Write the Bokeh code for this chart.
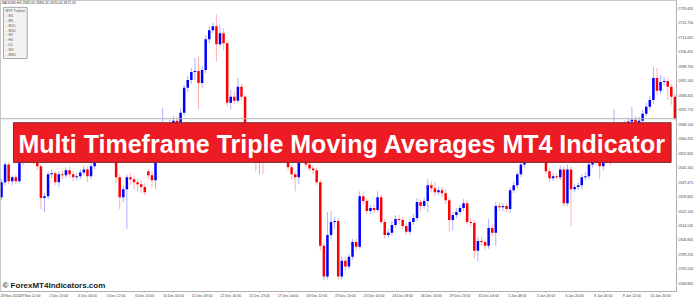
from bokeh.plotting import figure
from bokeh.models import ColumnDataSource, Range1d, FixedTicker, Span, Label, BoxAnnotation, PrintfTickFormatter
from bokeh.embed import file_html
from bokeh.resources import INLINE

symbol = "XAUUSD,H4"
date_labels = ["28 Nov 2024", "29 Nov 12:00", "2 Dec 20:00", "4 Dec 04:00", "5 Dec 12:00",
               "6 Dec 20:00", "10 Dec 00:00", "11 Dec 08:00", "12 Dec 16:00", "15 Dec 23:00",
               "17 Dec 04:00", "18 Dec 12:00", "19 Dec 20:00", "23 Dec 00:00", "24 Dec 08:00",
               "26 Dec 16:00", "29 Dec 23:00", "31 Dec 04:00", "2 Jan 08:00", "3 Jan 16:00",
               "6 Jan 20:00", "8 Jan 04:00", "9 Jan 12:00", "10 Jan 20:00"]
bars_per_label = 8
price_ticks = [2729.435, 2721.750, 2714.065, 2706.455, 2698.730, 2691.140, 2683.455, 2675.770,
               2668.140, 2660.455, 2652.845, 2645.160, 2637.475, 2629.845, 2622.140, 2614.535,
               2606.845, 2599.220, 2591.550, 2583.845]
timeframes = ["M1", "M5", "M15", "M30", "H1", "H4", "D1", "W1", "MN1"]

open_ = [2629.5, 2637.4, 2646.8, 2637.9, 2640.0, 2637.9, 2647.9, 2654.7, 2650.5, 2657.4,
         2647.9, 2645.8, 2629.0, 2630.0, 2641.6, 2642.1, 2637.4, 2641.6, 2641.1, 2643.7,
         2641.6, 2640.0, 2640.5, 2642.6, 2644.2, 2640.5, 2645.8, 2649.5, 2654.7, 2652.1,
         2657.4, 2654.7, 2649.5, 2640.0, 2629.5, 2633.7, 2640.0, 2639.0, 2637.4, 2636.3,
         2634.8, 2643.2, 2641.1, 2638.4, 2649.5, 2655.8, 2662.6, 2660.0, 2668.4, 2670.0,
         2668.9, 2674.2, 2687.4, 2691.6, 2695.8, 2696.3, 2690.0, 2696.8, 2713.1, 2717.9,
         2720.0, 2710.5, 2716.3, 2711.0, 2679.5, 2682.6, 2680.5, 2687.9, 2682.6, 2666.8,
         2660.0, 2654.7, 2650.5, 2655.8, 2652.1, 2657.4, 2660.0, 2655.8, 2654.7, 2657.4,
         2652.1, 2645.3, 2641.6, 2640.0, 2649.5, 2651.1, 2646.8, 2644.7, 2643.7, 2637.4,
         2603.7, 2587.4, 2609.5, 2616.3, 2616.9, 2587.4, 2595.8, 2592.7, 2597.9, 2605.8,
         2603.2, 2630.0, 2627.4, 2622.1, 2623.7, 2622.7, 2629.5, 2616.3, 2609.5, 2610.6,
         2614.8, 2617.9, 2617.4, 2614.2, 2611.1, 2616.3, 2618.4, 2626.9, 2624.8, 2627.4,
         2635.8, 2634.2, 2632.1, 2633.2, 2631.6, 2627.9, 2617.4, 2620.0, 2621.6, 2623.7,
         2626.3, 2616.3, 2615.8, 2601.1, 2606.3, 2605.8, 2603.7, 2613.2, 2610.6, 2624.8,
         2624.2, 2624.8, 2623.2, 2633.2, 2635.8, 2641.6, 2646.8, 2654.7, 2660.0, 2655.8,
         2658.9, 2653.7, 2649.5, 2643.2, 2639.5, 2640.5, 2640.0, 2644.2, 2626.3, 2644.2,
         2633.7, 2634.8, 2635.8, 2640.0, 2640.5, 2646.8, 2653.7, 2649.5, 2645.8, 2649.5,
         2654.7, 2652.1, 2660.0, 2657.4, 2662.6, 2667.9, 2669.5, 2670.5, 2668.9, 2670.0,
         2673.7, 2677.4, 2681.0, 2692.6, 2685.8, 2690.5, 2691.0, 2687.9, 2682.6]

high = [2639.0, 2648.4, 2647.9, 2641.1, 2641.6, 2650.5, 2656.8, 2656.3, 2660.0, 2658.4,
        2650.5, 2646.8, 2631.6, 2643.2, 2644.2, 2643.2, 2643.2, 2643.7, 2645.3, 2645.8,
        2643.2, 2642.1, 2644.2, 2646.3, 2645.8, 2647.9, 2652.1, 2657.4, 2656.8, 2660.0,
        2658.9, 2656.3, 2651.1, 2641.6, 2635.8, 2641.6, 2642.1, 2641.1, 2639.5, 2638.4,
        2636.9, 2644.2, 2643.2, 2650.5, 2657.4, 2676.8, 2665.3, 2670.5, 2672.6, 2672.1,
        2676.8, 2688.9, 2693.7, 2697.9, 2703.1, 2703.7, 2698.9, 2715.2, 2720.0, 2722.1,
        2726.3, 2720.5, 2718.9, 2712.6, 2686.3, 2685.2, 2692.6, 2689.5, 2683.7, 2668.4,
        2661.6, 2656.8, 2657.4, 2657.9, 2658.9, 2662.1, 2661.6, 2657.9, 2659.5, 2658.9,
        2653.7, 2646.8, 2643.2, 2651.1, 2653.2, 2652.6, 2648.4, 2646.3, 2645.3, 2639.0,
        2605.3, 2621.6, 2622.1, 2619.0, 2618.4, 2597.9, 2597.9, 2599.5, 2607.4, 2607.4,
        2632.6, 2632.6, 2629.0, 2625.3, 2625.8, 2632.6, 2631.1, 2617.9, 2612.7, 2616.9,
        2620.0, 2620.0, 2619.0, 2615.8, 2617.9, 2620.6, 2629.0, 2628.4, 2629.5, 2639.0,
        2637.9, 2637.4, 2634.8, 2634.8, 2633.7, 2629.5, 2621.6, 2623.7, 2625.3, 2628.4,
        2627.9, 2618.4, 2617.4, 2608.5, 2608.5, 2607.4, 2617.9, 2615.3, 2626.9, 2626.9,
        2626.3, 2626.3, 2634.8, 2637.9, 2643.2, 2649.0, 2656.8, 2662.1, 2661.6, 2661.0,
        2660.5, 2655.8, 2651.6, 2644.7, 2642.1, 2642.1, 2646.3, 2645.8, 2646.8, 2645.8,
        2636.3, 2637.4, 2641.6, 2642.6, 2648.4, 2655.8, 2655.3, 2651.6, 2651.1, 2656.8,
        2656.3, 2675.8, 2662.1, 2664.7, 2670.0, 2671.6, 2677.4, 2672.6, 2672.1, 2675.8,
        2679.5, 2683.1, 2698.4, 2697.9, 2694.2, 2693.1, 2692.6, 2689.5, 2684.2]

low = [2627.9, 2635.8, 2636.3, 2635.8, 2636.3, 2636.9, 2646.3, 2649.5, 2649.0, 2646.8,
       2643.7, 2623.2, 2621.6, 2628.4, 2639.5, 2635.8, 2634.8, 2639.0, 2639.5, 2640.0,
       2637.9, 2638.4, 2639.0, 2641.1, 2637.4, 2639.0, 2644.2, 2647.9, 2650.5, 2650.5,
       2653.2, 2647.9, 2636.9, 2623.2, 2626.9, 2612.7, 2635.8, 2633.7, 2632.6, 2631.6,
       2630.5, 2639.0, 2634.8, 2633.7, 2647.9, 2654.7, 2657.4, 2658.4, 2666.8, 2667.4,
       2667.4, 2672.6, 2685.2, 2689.5, 2691.6, 2675.8, 2687.4, 2695.2, 2711.0, 2716.3,
       2701.0, 2708.9, 2707.3, 2677.4, 2675.8, 2678.9, 2679.5, 2681.0, 2664.7, 2658.4,
       2653.2, 2643.2, 2641.6, 2641.6, 2650.5, 2655.8, 2654.2, 2652.6, 2653.2, 2650.5,
       2643.7, 2639.0, 2632.6, 2636.3, 2647.9, 2645.3, 2643.2, 2641.6, 2635.8, 2601.1,
       2585.3, 2585.8, 2607.4, 2612.7, 2585.8, 2585.8, 2590.6, 2591.1, 2596.3, 2601.1,
       2602.1, 2625.3, 2620.6, 2620.6, 2621.1, 2621.6, 2614.8, 2607.4, 2607.9, 2609.0,
       2613.2, 2615.3, 2612.7, 2609.5, 2609.5, 2614.8, 2616.9, 2622.1, 2623.2, 2621.6,
       2632.1, 2630.0, 2630.5, 2629.5, 2625.8, 2611.1, 2611.6, 2618.4, 2620.0, 2622.1,
       2614.8, 2613.7, 2596.9, 2595.3, 2603.7, 2601.6, 2602.1, 2608.5, 2603.7, 2622.1,
       2622.1, 2621.6, 2621.1, 2631.6, 2634.2, 2640.0, 2645.3, 2653.2, 2654.2, 2654.2,
       2652.1, 2647.9, 2641.6, 2637.4, 2637.9, 2638.4, 2638.4, 2624.2, 2624.8, 2614.2,
       2632.1, 2633.2, 2633.7, 2638.4, 2639.0, 2645.3, 2646.3, 2639.0, 2643.7, 2647.9,
       2645.8, 2650.5, 2655.8, 2655.8, 2661.0, 2666.8, 2667.9, 2667.4, 2667.4, 2668.4,
       2672.1, 2675.8, 2678.9, 2683.7, 2684.2, 2688.4, 2681.0, 2678.4, 2670.0]

close = [2637.4, 2646.8, 2637.9, 2640.0, 2637.9, 2647.9, 2654.7, 2650.5, 2657.4, 2647.9,
         2645.8, 2629.0, 2630.0, 2641.6, 2642.1, 2637.4, 2641.6, 2641.1, 2643.7, 2641.6,
         2640.0, 2640.5, 2642.6, 2644.2, 2640.5, 2645.8, 2649.5, 2654.7, 2652.1, 2657.4,
         2654.7, 2649.5, 2640.0, 2629.5, 2633.7, 2640.0, 2639.0, 2637.4, 2636.3, 2634.8,
         2632.1, 2641.1, 2638.4, 2649.5, 2655.8, 2662.6, 2660.0, 2668.4, 2670.0, 2668.9,
         2674.2, 2687.4, 2691.6, 2695.8, 2696.3, 2690.0, 2696.8, 2713.1, 2717.9, 2720.0,
         2710.5, 2716.3, 2711.0, 2679.5, 2682.6, 2680.5, 2687.9, 2682.6, 2666.8, 2660.0,
         2654.7, 2650.5, 2655.8, 2652.1, 2657.4, 2660.0, 2655.8, 2654.7, 2657.4, 2652.1,
         2645.3, 2641.6, 2640.0, 2649.5, 2651.1, 2646.8, 2644.7, 2643.7, 2637.4, 2603.7,
         2587.4, 2609.5, 2616.3, 2616.9, 2587.4, 2595.8, 2592.7, 2597.9, 2605.8, 2603.2,
         2630.0, 2627.4, 2622.1, 2623.7, 2622.7, 2629.5, 2616.3, 2609.5, 2610.6, 2614.8,
         2617.9, 2617.4, 2614.2, 2611.1, 2616.3, 2618.4, 2626.9, 2624.8, 2627.4, 2635.8,
         2634.2, 2632.1, 2633.2, 2631.6, 2627.9, 2617.4, 2620.0, 2621.6, 2623.7, 2626.3,
         2616.3, 2615.8, 2601.1, 2606.3, 2605.8, 2603.7, 2613.2, 2610.6, 2624.8, 2624.2,
         2624.8, 2623.2, 2633.2, 2635.8, 2641.6, 2646.8, 2654.7, 2660.0, 2655.8, 2658.9,
         2653.7, 2649.5, 2643.2, 2639.5, 2640.5, 2640.0, 2644.2, 2626.3, 2644.2, 2633.7,
         2634.8, 2635.8, 2640.0, 2640.5, 2646.8, 2653.7, 2649.5, 2645.8, 2649.5, 2654.7,
         2652.1, 2660.0, 2657.4, 2662.6, 2667.9, 2669.5, 2670.5, 2668.9, 2670.0, 2673.7,
         2677.4, 2681.0, 2692.6, 2685.8, 2690.5, 2691.0, 2687.9, 2682.6, 2671.05]

BULL, BEAR = "#0000ff", "#ff0000"
BULL_WICK, BEAR_WICK = "#aeb0ff", "#ffb0b0"

n = len(close)
bull = [c > o for o, c in zip(open_, close)]
src = ColumnDataSource(dict(
    x=list(range(n)), open=open_, high=high, low=low, close=close,
    top=[max(o, c) for o, c in zip(open_, close)],
    bottom=[min(o, c) for o, c in zip(open_, close)],
    body=[BULL if b else BEAR for b in bull],
    wick=[BULL_WICK if b else BEAR_WICK for b in bull],
))

p = figure(width=696, height=300, output_backend="svg", toolbar_location=None, tools="",
           x_range=Range1d(-0.28, 188.45), y_range=Range1d(2579.52, 2733.64),
           y_axis_location="right", min_border_left=0, min_border_top=0,
           min_border_right=16, min_border_bottom=7,
           background_fill_color="white", border_fill_color="white")
p.grid.visible = False
p.outline_line_color = "#c8c8c8"

p.segment(x0="x", y0="low", x1="x", y1="high", color="wick", line_width=1, source=src)
p.vbar(x="x", width=0.7, top="top", bottom="bottom", fill_color="body", line_color=None, source=src)

p.add_layout(Span(location=close[-1], dimension="width", line_color="#b4b4b4", line_width=1))

yax = p.yaxis[0]
yax.ticker = FixedTicker(ticks=price_ticks)
yax.formatter = PrintfTickFormatter(format="%.3f")
xax = p.xaxis[0]
xticks = [i * bars_per_label for i in range(len(date_labels))]
xax.ticker = FixedTicker(ticks=xticks)
xax.major_label_overrides = {t: s for t, s in zip(xticks, date_labels)}
xax.major_label_text_align = "left"
for ax in (xax, yax):
    ax.major_label_text_font = "Liberation Sans"
    ax.major_label_text_font_size = "3.5px"
    ax.major_label_text_color = "#444444"
    ax.axis_line_color = "#b0b0b0"
    ax.major_tick_line_color = "#b0b0b0"
    ax.major_tick_out = 1
    ax.major_tick_in = 0
    ax.minor_tick_line_color = None
    ax.major_label_standoff = 1

# current price tag on the price scale
p.add_layout(Label(x=188.45, y=close[-1], x_offset=0.5, text=f"{close[-1]:.3f}",
                   text_font="Liberation Sans", text_font_size="3.5px", text_color="white",
                   text_baseline="middle", background_fill_color="black", padding=1))

# header line
p.add_layout(Label(x=1, x_units="screen", y=2733.6, text_baseline="top",
                   text=f"{symbol}  {open_[-1]:.2f} {high[-1]:.2f} {low[-1]:.2f} {close[-1]:.2f}",
                   text_font="Liberation Sans", text_font_size="3.5px", text_color="#333333"))

# indicator panel
panel_text = "MTF Triplant\n" + "\n".join("\u25a1 " + t for t in timeframes)
p.add_layout(Label(x=3, x_units="screen", y=2730.0, text_baseline="top", text=panel_text,
                   text_font="Liberation Sans", text_font_size="3.5px", text_color="#555555",
                   background_fill_color="#f2f2f2", border_line_color="#a8a8a8", padding=2))

# banner
p.add_layout(BoxAnnotation(left=3.33, right=186.94, top=2668.9, bottom=2647.9,
                           fill_color="#ed1c24", fill_alpha=1.0, line_color="#7a2a2a",
                           line_width=1, line_alpha=1.0))
p.add_layout(Label(x=95.1, y=2657.4, text="Multi Timeframe Triple Moving Averages MT4 Indicator",
                   text_align="center", text_baseline="middle", text_font="Liberation Sans",
                   text_font_style="bold", text_font_size="25px", text_color="white"))

# watermark
p.add_layout(Label(x=2, x_units="screen", y=1.5, y_units="screen",
                   text="\u00a9 ForexMT4Indicators.com", text_font="Liberation Sans",
                   text_font_style="bold", text_font_size="8px", text_color="#1c1c1c"))

open("out.html", "w").write(file_html(p, INLINE))
